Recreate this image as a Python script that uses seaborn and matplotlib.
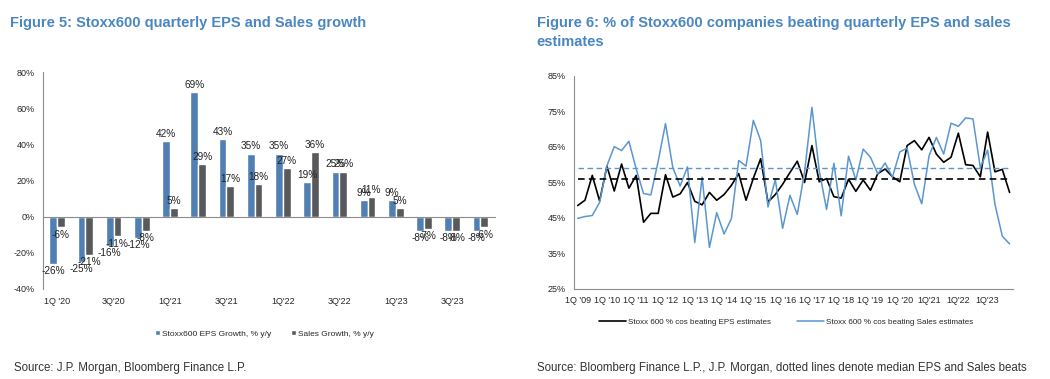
import numpy as np
import pandas as pd
import matplotlib
matplotlib.use("Agg")
import matplotlib.pyplot as plt
import seaborn as sns

# Figure 5 data
quarters = ["1Q '20", "2Q'20", "3Q'20", "4Q'20", "1Q'21", "2Q'21", "3Q'21", "4Q'21",
            "1Q'22", "2Q'22", "3Q'22", "4Q'22", "1Q'23", "2Q'23", "3Q'23", "4Q'23"]
eps_growth = [-26, -25, -16, -12, 42, 69, 43, 35, 35, 19, 25, 9, 9, -8, -8, -8]
sales_growth = [-6, -21, -11, -8, 5, 29, 17, 18, 27, 36, 25, 11, 5, -7, -8, -6]

# Figure 6 data (quarterly, 1Q'09 .. 4Q'23)
beat_labels = ["1Q '09", "1Q '10", "1Q '11", "1Q '12", "1Q '13", "1Q '14", "1Q '15", "1Q '16",
               "1Q '17", "1Q '18", "1Q '19", "1Q '20", "1Q'21", "1Q'22", "1Q'23"]
eps_beat = [48.5, 50, 57, 49.8, 59.6, 52.6, 60.2, 53.4, 57, 43.8,
            46.3, 46.3, 57.2, 50.9, 51.8, 55, 49.7, 48.7, 52.2, 50,
            51.6, 54.2, 57.5, 50, 56.2, 61.7, 49.5, 51.6, 54.5, 57.8,
            61, 55, 65.4, 55.2, 56.1, 51, 50.6, 55.9, 52.5, 55.7,
            52.8, 57.5, 58.8, 56.6, 55.2, 65.4, 66.8, 64.2, 67.7, 63,
            60.7, 62.1, 68.9, 60, 59.8, 56.6, 69.2, 58, 58.7, 52.2]
sales_beat = [44.9, 45.4, 45.7, 49.4, 59.7, 65.1, 64, 66.6, 58.8, 51.9,
              51.5, 61, 71.6, 59.2, 54, 59.4, 38.1, 56.5, 36.7, 46.5,
              40.5, 44.8, 61.2, 59.6, 72.5, 66.8, 48.1, 55.8, 42.1, 51.4,
              46, 58, 76.2, 58.3, 47.4, 60.4, 45.6, 62.4, 55.7, 64.4,
              62.1, 57.4, 60.5, 56.5, 63.6, 64.7, 54.5, 49, 62.5, 67.7,
              63, 71.7, 70.8, 73.2, 72.9, 59.2, 64.1, 48.9, 39.9, 37.7]
eps_median = 56.0
sales_median = 59.0

sns.set_style("white")
plt.rcParams['font.family'] = ['Liberation Sans', 'DejaVu Sans']

BLUE = '#3f7ec4'
GRAY = '#58595b'
LINE_BLUE = '#5a96cf'
TITLE = '#4a86c1'
AXC = '#8c8c8c'

fig = plt.figure(figsize=(10.5, 3.79), dpi=100)

# ---------- Figure 5 ----------
ax1 = fig.add_axes([0.041, 0.238, 0.43, 0.571])
df = pd.DataFrame({
    'quarter': quarters * 2,
    'series': ['Stoxx600 EPS Growth, % y/y'] * 16 + ['Sales Growth, % y/y'] * 16,
    'value': eps_growth + sales_growth,
})
sns.barplot(data=df, x='quarter', y='value', hue='series', order=quarters,
            palette=[BLUE, GRAY], width=0.55, ax=ax1, legend=True)
for cont in ax1.containers:
    ax1.bar_label(cont, labels=[f'{v:.0f}%' for v in cont.datavalues],
                  padding=1.5, fontsize=7.2, color='#222222')

ax1.set_xlim(-0.5, 15.5)
ax1.set_ylim(-40, 80)
ax1.set_yticks(range(-40, 81, 20))
ax1.set_yticklabels([f'{v}%' for v in range(-40, 81, 20)])
ax1.spines['top'].set_visible(False)
ax1.spines['right'].set_visible(False)
ax1.spines['bottom'].set_position(('data', 0))
for s in ('left', 'bottom'):
    ax1.spines[s].set_color(AXC)
    ax1.spines[s].set_linewidth(0.8)
ax1.set_xticks(np.arange(-0.5, 16, 1))
ax1.set_xticklabels([])
ax1.tick_params(axis='x', direction='out', length=3, color=AXC)
ax1.tick_params(axis='y', direction='out', length=3, color=AXC, labelsize=6.5, pad=3)
ax1.set_xlabel('')
ax1.set_ylabel('')
sec = ax1.secondary_xaxis('bottom')
sec.set_xticks(range(0, 16, 2))
sec.set_xticklabels(quarters[::2])
sec.tick_params(length=0, labelsize=6.5, pad=6)
sec.spines['bottom'].set_visible(False)

h, l = ax1.get_legend_handles_labels()
ax1.get_legend().remove()
fig.legend(h, l, loc='center', bbox_to_anchor=(0.252, 0.119), ncol=2, frameon=False,
           fontsize=6.0, handlelength=0.6, handleheight=0.6, handletextpad=0.3,
           columnspacing=2.3)

# ---------- Figure 6 ----------
ax2 = fig.add_axes([0.547, 0.2375, 0.418, 0.562])
xq = np.arange(len(eps_beat))
sns.lineplot(x=xq, y=eps_beat, color='black', linewidth=1.2, ax=ax2,
             label='Stoxx 600 % cos beating EPS estimates')
sns.lineplot(x=xq, y=sales_beat, color=LINE_BLUE, linewidth=1.1, ax=ax2,
             label='Stoxx 600 % cos beating Sales estimates')
ax2.hlines(eps_median, xq[0], xq[-1], colors='black', linestyles=(0, (4, 2.5)), linewidth=1.2)
ax2.hlines(sales_median, xq[0], xq[-1], colors=LINE_BLUE, linestyles=(0, (4, 2.5)), linewidth=1.0)

ax2.set_xlim(-0.45, 59.5)
ax2.set_ylim(25, 85)
ax2.set_yticks(range(25, 86, 10))
ax2.set_yticklabels([f'{v}%' for v in range(25, 86, 10)])
ax2.set_xticks(range(0, 60, 4))
ax2.set_xticklabels(beat_labels)
ax2.set_xticks(range(0, 60), minor=True)
ax2.spines['top'].set_visible(False)
ax2.spines['right'].set_visible(False)
for s in ('left', 'bottom'):
    ax2.spines[s].set_color(AXC)
    ax2.spines[s].set_linewidth(0.8)
ax2.tick_params(axis='x', which='both', direction='out', length=3, color=AXC, labelsize=6.5, pad=2)
ax2.tick_params(axis='y', direction='out', length=3, color=AXC, labelsize=6.5, pad=3)
h2, l2 = ax2.get_legend_handles_labels()
ax2.get_legend().remove()
fig.legend(h2, l2, loc='center', bbox_to_anchor=(0.749, 0.150), ncol=2, frameon=False,
           fontsize=5.8, handlelength=3.3, handletextpad=0.3, columnspacing=3.2)

# titles and sources
fig.text(0.010, 0.958, 'Figure 5: Stoxx600 quarterly EPS and Sales growth',
         fontsize=10.5, fontweight='bold', color=TITLE, va='top', ha='left')
fig.text(0.511, 0.958, 'Figure 6: % of Stoxx600 companies beating quarterly EPS and sales\nestimates',
         fontsize=10.5, fontweight='bold', color=TITLE, va='top', ha='left', linespacing=1.45)
fig.text(0.013, 0.028, 'Source: J.P. Morgan, Bloomberg Finance L.P.',
         fontsize=8.3, color='#333333', va='center', ha='left')
fig.text(0.511, 0.028, 'Source: Bloomberg Finance L.P., J.P. Morgan, dotted lines denote median EPS and Sales beats',
         fontsize=8.3, color='#333333', va='center', ha='left')

fig.savefig('out.png', dpi=100)
